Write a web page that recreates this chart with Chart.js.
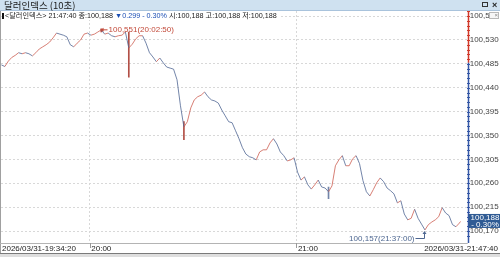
<!DOCTYPE html>
<html>
<head>
<meta charset="utf-8">
<script src="https://cdn.jsdelivr.net/npm/chart.js@4.4.1/dist/chart.umd.min.js"></script>
<style>
  html, body { margin: 0; padding: 0; background: #fff; }
  body { width: 500px; height: 257px; position: relative; overflow: hidden;
         font-family: 'Liberation Sans Narrow', 'Liberation Sans', 'Noto Sans CJK KR', sans-serif; }
  #wrap { position: absolute; left: 0; top: 0; width: 500px; height: 257px; }
  #title { position: absolute; left: 0; top: 0; width: 500px; height: 10px; background: #cfe1f0;
           border-bottom: 1px solid #a9c3dc; font-size: 9.5px; line-height: 10px; color: #1a1a1a; }
  #title .t { position: absolute; left: 4px; top: 0; font-family: 'Noto Sans CJK KR', sans-serif; }
  #title .rest { position: absolute; left: 482px; top: 2px; width: 6px; height: 5px; border: 1px solid #333; box-sizing: border-box; }
  #title .x { position: absolute; left: 492px; top: 0; font-size: 9px; font-weight: bold; color: #222; }
  #info { position: absolute; left: 2px; top: 11px; height: 9px; line-height: 9px; font-size: 7.2px; color: #222;
          background: #fff; padding-right: 3px; white-space: nowrap; }
  #info .bar { display: inline-block; width: 2px; height: 6px; background: #111; margin-right: 1px; vertical-align: -0.5px; }
  #info .dn { color: #1c4fb5; }
  #info .kr { font-family: 'Noto Sans CJK KR', sans-serif; }
  #mini { position: absolute; left: 489px; top: 12px; width: 10px; height: 7px; border: 1px solid #b8b8b8;
          box-sizing: border-box; font-size: 6px; line-height: 5px; color: #888; text-align: right; background: #f6f6f6; }
</style>
</head>
<body>
<div id="wrap"><canvas id="cv" width="500" height="257"></canvas></div>
<div id="title"><span class="t">달러인덱스 (10초)</span><span class="rest"></span><span class="x">×</span></div>
<div id="info"></div>
<div id="mini">×</div>
<script>
// ── data: 1-minute samples from 19:34:20 (last one is 21:47:40) ──
const closes = [
  100.483, 100.480, 100.490, 100.497, 100.501, 100.506, 100.504, 100.506, 100.504, 100.500,
  100.506, 100.513, 100.517, 100.521, 100.526, 100.534, 100.543, 100.541, 100.539, 100.536,
  100.521, 100.517, 100.524, 100.530, 100.541, 100.543, 100.539, 100.541, 100.545, 100.549,
  100.541, 100.543, 100.538, 100.536, 100.538, 100.539, 100.545, 100.515, 100.522, 100.532,
  100.538, 100.538, 100.524, 100.506, 100.498, 100.489, 100.496, 100.487, 100.479, 100.477,
  100.475, 100.455, 100.406, 100.366, 100.376, 100.402, 100.417, 100.423, 100.426, 100.432,
  100.423, 100.417, 100.415, 100.411, 100.398, 100.387, 100.376, 100.374, 100.359, 100.344,
  100.327, 100.315, 100.310, 100.308, 100.304, 100.319, 100.323, 100.323, 100.336, 100.344,
  100.334, 100.319, 100.312, 100.302, 100.304, 100.308, 100.281, 100.266, 100.272, 100.257,
  100.249, 100.257, 100.266, 100.253, 100.251, 100.244, 100.255, 100.293, 100.304, 100.312,
  100.293, 100.293, 100.306, 100.312, 100.297, 100.265, 100.244, 100.236, 100.248, 100.261,
  100.270, 100.263, 100.251, 100.246, 100.240, 100.223, 100.227, 100.202, 100.191, 100.194,
  100.211, 100.194, 100.183, 100.172, 100.182, 100.187, 100.191, 100.197, 100.214, 100.204,
  100.199, 100.182, 100.178, 100.185,
  100.188
];
// seconds after 19:34:20
const times = [];
for (let s = 0; s <= 7980; s += 60) times.push(s);
times.push(8000);

// long wicks (spikes) that the 1-minute line hides
const wickTimes = [1740, 2220, 3180, 5700];
const wickLow   = [100.545, 100.460, 100.342, 100.231];
const wickHigh  = [100.551, 100.545, 100.376, 100.253];
const wickUp    = [true, true, true, false];

const yTicks = [100.170, 100.215, 100.260, 100.305, 100.350, 100.395, 100.440, 100.485, 100.530, 100.575];
const xLabelTimes = [0, 1540, 5140, 8000];
const xLabelTexts = ['2026/03/31-19:34:20', '20:00', '21:00', '2026/03/31-21:47:40'];

const prevClose = 100.487;
const last = closes[closes.length - 1];
const hi = { t: 1710, v: 100.551, text: '100,551(20:02:50)' };
const lo = { t: 7360, v: 100.157, text: '100,157(21:37:00)' };

// ── helpers ──
const UP = 'rgba(205,95,82,0.8)', DOWN = 'rgba(80,102,148,0.8)';
const NUM_FONT = "8px 'Liberation Sans Narrow', 'Liberation Sans', sans-serif";
const fmt3 = v => v.toFixed(3).replace('.', ',');

// header line
const chg = last - prevClose;
const pct = chg / prevClose * 100;
document.getElementById('info').innerHTML =
  `<span class="bar"></span>&lt;<span class="kr">달러인덱스</span>&gt; 21:47:40 <span class="kr">종</span>:${fmt3(last)} ` +
  `<span class="dn">▼${fmt3(Math.abs(chg)).replace(',', '.')} - ${Math.abs(pct).toFixed(2)}%</span> ` +
  `<span class="kr">시</span>:${fmt3(last)} <span class="kr">고</span>:${fmt3(last)} <span class="kr">저</span>:${fmt3(last)}`;

// ── frame, axis, labels, annotations ──
const frame = {
  id: 'frame',
  afterDraw(chart) {
    const { ctx, chartArea: a, scales: { x, y } } = chart;
    ctx.save();
    // left border + bottom strip
    ctx.fillStyle = '#a0a0a0';
    ctx.fillRect(0, 11, 1, 243);
    ctx.fillStyle = '#b4b4b4';
    ctx.fillRect(0, a.bottom, a.right, 1);
    ctx.fillStyle = '#7a7a7a';
    ctx.fillRect(0, 253, 500, 1);
    ctx.fillStyle = '#dedede';
    ctx.fillRect(0, 254, 500, 3);

    // y axis line: red above previous close, blue below
    const ax = Math.round(a.right) + 0.5;
    const yPrev = y.getPixelForValue(prevClose);
    ctx.lineWidth = 1.5;
    ctx.strokeStyle = '#d0392b';
    ctx.beginPath(); ctx.moveTo(ax, a.top); ctx.lineTo(ax, yPrev); ctx.stroke();
    ctx.strokeStyle = '#3457a6';
    ctx.beginPath(); ctx.moveTo(ax, yPrev); ctx.lineTo(ax, a.bottom); ctx.stroke();
    // minor ticks
    ctx.lineWidth = 1;
    for (let v = yTicks[0] - 0.009; v < y.max; v += 0.009) {
      const py = Math.round(y.getPixelForValue(v)) + 0.5;
      if (py < a.top || py > a.bottom) continue;
      ctx.strokeStyle = v >= prevClose ? '#d0392b' : '#3457a6';
      ctx.beginPath(); ctx.moveTo(ax - 1.5, py); ctx.lineTo(ax + 1.5, py); ctx.stroke();
    }

    // x labels
    ctx.font = NUM_FONT;
    ctx.textBaseline = 'middle';
    xLabelTimes.forEach((t, i) => {
      const px = x.getPixelForValue(t);
      const lastOne = i === xLabelTimes.length - 1;
      ctx.fillStyle = '#222';
      if (i === 0) {
        ctx.textAlign = 'left';
        ctx.fillText(xLabelTexts[i], 2, 249);
      } else if (lastOne) {
        const w = ctx.measureText(xLabelTexts[i]).width;
        ctx.fillStyle = '#fff';
        ctx.fillRect(497 - w, 244, w + 3, 9);
        ctx.fillStyle = '#222';
        ctx.textAlign = 'right';
        ctx.fillText(xLabelTexts[i], 498, 249);
      } else {
        ctx.strokeStyle = '#999';
        ctx.beginPath(); ctx.moveTo(Math.round(px) + 0.5, a.bottom); ctx.lineTo(Math.round(px) + 0.5, a.bottom + 5); ctx.stroke();
        ctx.textAlign = 'left';
        ctx.fillText(xLabelTexts[i], px + 1.5, 249);
      }
    });

    // high annotation
    const hx = x.getPixelForValue(hi.t) + 1, hy = y.getPixelForValue(hi.v) + 1;
    ctx.strokeStyle = ctx.fillStyle = '#c24a3a';
    ctx.beginPath(); ctx.moveTo(hx, hy); ctx.lineTo(hx + 7, hy); ctx.stroke();
    ctx.beginPath(); ctx.moveTo(hx, hy); ctx.lineTo(hx + 3, hy - 2); ctx.lineTo(hx + 3, hy + 2); ctx.closePath(); ctx.fill();
    ctx.textAlign = 'left';
    ctx.fillText(hi.text, hx + 8, hy);

    // low annotation
    const lx = Math.round(x.getPixelForValue(lo.t)) + 0.5, ly = Math.round(y.getPixelForValue(lo.v)) + 0.5;
    const lowClose = y.getPixelForValue(Math.min(...closes));
    ctx.strokeStyle = ctx.fillStyle = '#4d6690';
    ctx.beginPath(); ctx.moveTo(lx - 9, ly); ctx.lineTo(lx, ly); ctx.lineTo(lx, lowClose + 2); ctx.stroke();
    ctx.beginPath(); ctx.moveTo(lx, lowClose + 1); ctx.lineTo(lx - 2, lowClose + 4); ctx.lineTo(lx + 2, lowClose + 4); ctx.closePath(); ctx.fill();
    ctx.textAlign = 'right';
    ctx.fillText(lo.text, lx - 10, ly);

    // last price box
    const by = y.getPixelForValue(last);
    ctx.fillStyle = '#2f5b94';
    ctx.fillRect(a.right + 1, by - 7.5, 500 - a.right, 14);
    ctx.fillStyle = '#fff';
    ctx.textAlign = 'center';
    ctx.fillText(fmt3(last), 485, by - 3.5);
    ctx.fillText('- ' + Math.abs(pct).toFixed(2) + '%', 485, by + 3);
    ctx.restore();
  }
};

new Chart(document.getElementById('cv'), {
  type: 'line',
  data: {
    datasets: [
      {
        type: 'line',
        data: times.map((t, i) => ({ x: t, y: closes[i] })),
        borderWidth: 1,
        borderColor: DOWN,
        pointRadius: 0,
        tension: 0,
        segment: { borderColor: c => (c.p1.parsed.y >= c.p0.parsed.y ? UP : DOWN) },
        order: 1
      },
      {
        type: 'bar',
        data: wickTimes.map((t, i) => ({ x: t, y: [wickLow[i], wickHigh[i]] })),
        backgroundColor: wickTimes.map((t, i) => (wickUp[i] ? 'rgba(170,60,50,0.9)' : DOWN)),
        barThickness: 1,
        order: 2
      }
    ]
  },
  options: {
    responsive: false,
    animation: false,
    layout: { padding: { top: 11, left: 1, right: 0, bottom: 0 } },
    plugins: { legend: { display: false }, tooltip: { enabled: false } },
    scales: {
      x: {
        type: 'linear', min: -7, max: 8125, offset: false,
        afterFit: s => { s.height = 14; },
        afterBuildTicks: s => { s.ticks = [xLabelTimes[1], xLabelTimes[2]].map(v => ({ value: v })); },
        ticks: { display: false },
        grid: { color: '#d8d8d8', drawTicks: false, offset: false },
        border: { display: false, dash: [2, 2] }
      },
      y: {
        position: 'right', min: 100.1474, max: 100.5846,
        afterFit: s => { s.width = 32.3; },
        afterBuildTicks: s => { s.ticks = yTicks.map(v => ({ value: v })); },
        ticks: { callback: v => fmt3(v), color: '#444', padding: 2,
                 font: { family: "'Liberation Sans Narrow', 'Liberation Sans', sans-serif", size: 8 } },
        grid: { color: '#d8d8d8', drawTicks: false },
        border: { display: false, dash: [2, 2] }
      }
    }
  },
  plugins: [frame]
});
</script>
</body>
</html>
